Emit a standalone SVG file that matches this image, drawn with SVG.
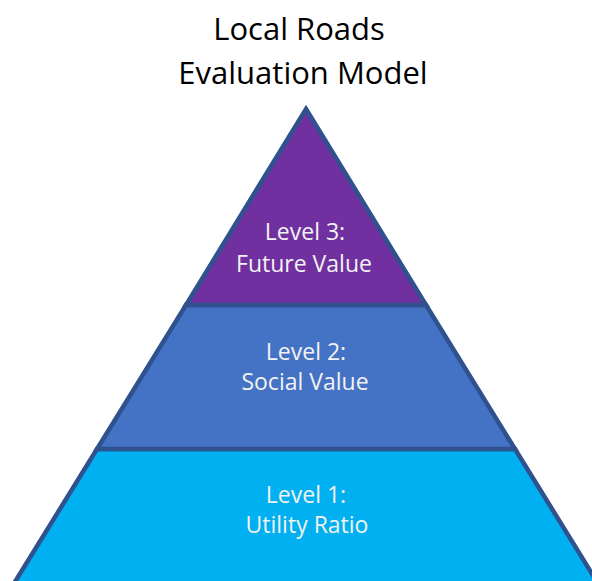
<svg xmlns="http://www.w3.org/2000/svg" width="592" height="581" viewBox="0 0 592 581">
<style>
.band{stroke:#2F528F;stroke-width:4.5;stroke-linejoin:miter}
.lbl{font-family:"Open Sans","Liberation Sans",sans-serif;font-size:23px;fill:#F2F2F2;text-anchor:middle}
.title{font-family:"Open Sans","Liberation Sans",sans-serif;font-size:31px;fill:#000;text-anchor:middle}
</style>
<rect width="592" height="581" fill="#fff"/>
<g id="title">
<text class="title" x="299" y="40">Local Roads</text>
<text class="title" x="303" y="84">Evaluation Model</text>
</g>
<g id="level1">
<polygon class="band" fill="#00B0F0" points="97,449 515,449 599,585 13,585"/>
<text class="lbl" x="306" y="503">Level 1:</text>
<text class="lbl" x="307" y="533">Utility Ratio</text>
</g>
<g id="level2">
<polygon class="band" fill="#4472C4" points="186,305 426,305 515,449 97,449"/>
<text class="lbl" x="306" y="360">Level 2:</text>
<text class="lbl" x="305" y="390">Social Value</text>
</g>
<g id="level3">
<polygon class="band" fill="#7030A0" points="306,109 426,305 186,305"/>
<text class="lbl" x="305" y="240">Level 3:</text>
<text class="lbl" x="304" y="272">Future Value</text>
</g>
</svg>
